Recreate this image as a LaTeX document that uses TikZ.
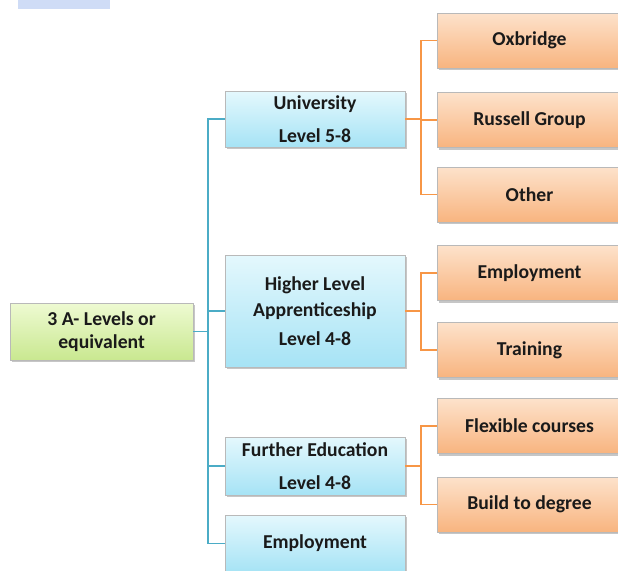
\documentclass[tikz,border=0pt]{standalone}
\usepackage{fontspec}
\setmainfont{Carlito}
\usepackage{tikz}
\usetikzlibrary{shadows, positioning}
\definecolor{trunkblue}{HTML}{4BACC6}
\definecolor{branchorange}{HTML}{F79646}
\definecolor{labelgray}{HTML}{1A1A1A}
\definecolor{tabblue}{HTML}{CFDCF6}
\definecolor{rootTop}{HTML}{EEFAD2}
\definecolor{rootBottom}{HTML}{C9E890}
\definecolor{levelTop}{HTML}{E4F8FD}
\definecolor{levelBottom}{HTML}{A6E3F5}
\definecolor{optionTop}{HTML}{FDE2CB}
\definecolor{optionBottom}{HTML}{F8B47F}
\tikzstyle{boxbase} = [rectangle, draw=gray!55, line width=0.4pt, text=labelgray, align=center,
                       font=\fontsize{14}{19}\selectfont\bfseries,
                       drop shadow={shadow xshift=0.05cm, shadow yshift=-0.05cm, fill=gray, opacity=0.45}]
\tikzstyle{rootbox} = [boxbase, top color=rootTop, bottom color=rootBottom, minimum width=4.575cm, minimum height=1.425cm]
\tikzstyle{levelbox} = [boxbase, top color=levelTop, bottom color=levelBottom, minimum width=4.5cm]
\tikzstyle{optionbox} = [boxbase, top color=optionTop, bottom color=optionBottom, minimum width=4.625cm, minimum height=1.375cm]
\tikzstyle{trunkline} = [draw=trunkblue, line width=1.2pt]
\tikzstyle{branchline} = [draw=branchorange, line width=1.2pt]

\begin{document}
\begin{tikzpicture}
	\useasboundingbox (0, 0) rectangle (15.45, -14.25);
	\fill[tabblue] (0.45, 0) rectangle (2.75, -0.225);

	\node (Root) [rootbox] at (2.54, -8.29) {3 A- Levels or\\[-2.7pt]equivalent};
	\coordinate (Trunk) at (5.2, -8.29);
	\draw[trunkline] (Root.east) -- (Trunk);

	% university
	\node (Uni) [levelbox, minimum height=1.4cm] at (7.875, -2.975) {University\\[4pt]Level 5-8};
	\draw[trunkline] (Trunk) |- (Uni);
	\coordinate (UniFork) at (10.525, -2.975);
	\draw[branchline] (Uni) -- (UniFork);

	\node (Oxbridge) [optionbox] at (13.2375, -1.0125) {Oxbridge};
	\node (Russell) [optionbox] at (13.2375, -3.0) {Russell Group};
	\node (Other) [optionbox] at (13.2375, -4.8625) {Other};
	\draw[branchline] (UniFork) |- (Oxbridge);
	\draw[branchline] (UniFork) |- (Russell);
	\draw[branchline] (UniFork) |- (Other);

	% apprenticeship
	\node (Higher) [levelbox, minimum height=2.8cm] at (7.875, -7.775) {Higher Level\\[-0.5pt]Apprenticeship\\[2pt]Level 4-8};
	\draw[trunkline] (Trunk) |- (Higher);
	\coordinate (HigherFork) at (10.525, -7.775);
	\draw[branchline] (Higher) -- (HigherFork);

	\node (Employ) [optionbox] at (13.2375, -6.825) {Employment};
	\node (Training) [optionbox] at (13.2375, -8.75) {Training};
	\draw[branchline] (HigherFork) |- (Employ);
	\draw[branchline] (HigherFork) |- (Training);

	% further education
	\node (Further) [levelbox, minimum height=1.45cm] at (7.875, -11.65) {Further Education\\[4pt]Level 4-8};
	\draw[trunkline] (Trunk) |- (Further);
	\coordinate (FurtherFork) at (10.525, -11.65);
	\draw[branchline] (Further) -- (FurtherFork);

	\node (Flexible) [optionbox] at (13.2375, -10.65) {Flexible courses};
	\node (Build) [optionbox] at (13.2375, -12.6125) {Build to degree};
	\draw[branchline] (FurtherFork) |- (Flexible);
	\draw[branchline] (FurtherFork) |- (Build);

	% straight to work
	\node (Work) [levelbox, minimum height=1.425cm] at (7.875, -13.59) {Employment};
	\draw[trunkline] (Trunk) |- (Work);
\end{tikzpicture}
\end{document}
